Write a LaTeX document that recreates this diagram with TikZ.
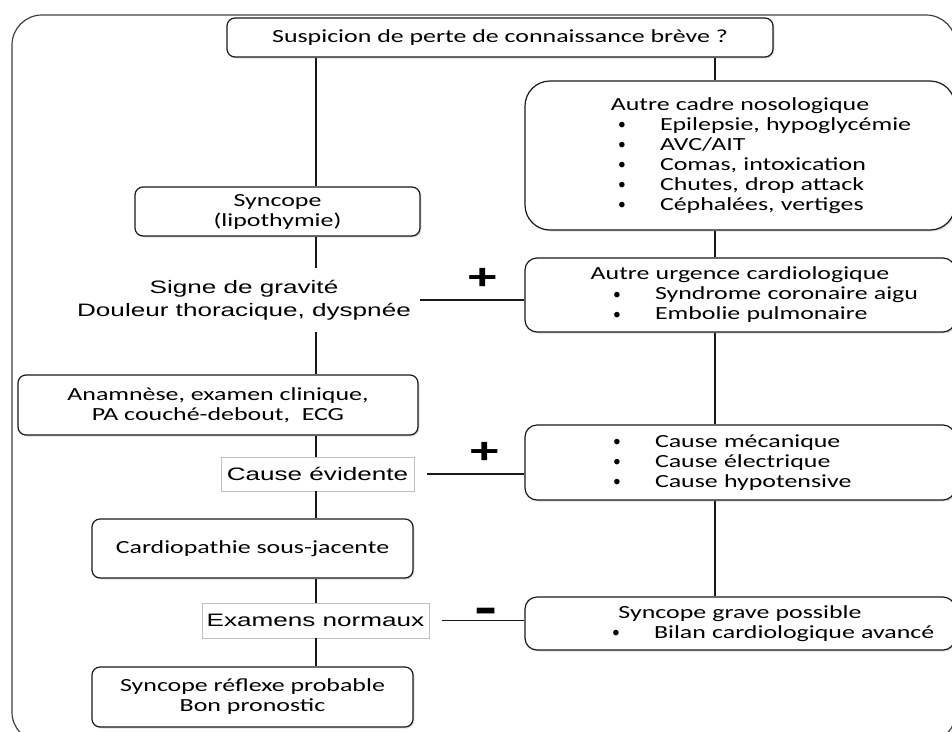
\documentclass[tikz,border=0pt]{standalone}
\usepackage{fontspec}
\usepackage{graphicx}
\setmainfont{Carlito}[FakeStretch=1.40]
\newfontfamily\arialf{Liberation Sans}[FakeStretch=1.45]
\usetikzlibrary{shapes,positioning,shadows}
\setlength{\parindent}{0pt}

\newcommand{\titre}[1]{\makebox[\linewidth]{#1}}
\newcommand{\puce}[2]{\hspace*{#1}\makebox[42pt][l]{\raisebox{0.5pt}{\scalebox{0.6}[0.85]{\textbullet}}}#2}

\begin{document}
\begin{tikzpicture}[x=1pt, y=-1pt,
    boite/.style={draw=black!90, line width=1.2pt, rounded corners=8pt, fill=white, align=center, inner sep=0pt,
        font=\fontsize{18.5}{20}\selectfont, drop shadow={shadow xshift=1.5pt, shadow yshift=-1.5pt, opacity=0.25}},
    liste/.style={boite, rounded corners=12pt, text width=430pt, align=left},
    critere/.style={font=\arialf\fontsize{18}{23}\selectfont, align=center},
    cadregris/.style={critere, draw=black!25, line width=0.6pt, inner sep=0pt},
    signe/.style={font=\arialf\bfseries\fontsize{36}{36}\selectfont, inner sep=3pt},
    lien/.style={draw=black!90, line width=1.2pt}]
    \useasboundingbox (0,0) rectangle (952,731);
    \clip (0,0) rectangle (952,731);
    \draw[draw=black!75, line width=1.2pt, rounded corners=30pt] (12,15) rectangle (956,742);

    \coordinate (gauche) at (316,0);
    \coordinate (droite) at (715,0);

    \node[boite, minimum width=546pt, minimum height=39pt] (question) at (500,37.5) {Suspicion de perte de connaissance brève ?};
    \node[boite, minimum width=285pt, minimum height=49pt] (syncope) at (277.5,211.5) {Syncope\\(lipothymie)};
    \node[critere, inner xsep=9pt, inner ysep=12pt] (gravite) at (244,300) {Signe de gravité\\Douleur thoracique, dyspnée};
    \node[boite, minimum width=400pt, minimum height=60pt] (anamnese) at (218,405) {Anamnèse, examen clinique,\\PA couché-debout,\ \ ECG};
    \node[cadregris, minimum width=193pt, minimum height=34pt] (evidente) at (317.5,474) {Cause évidente};
    \node[boite, minimum width=321pt, minimum height=59pt] (cardio) at (252.5,548.5) {Cardiopathie sous-jacente};
    \node[cadregris, minimum width=227pt, minimum height=35pt] (normaux) at (315.5,620.5) {Examens normaux};
    \node[boite, minimum width=321pt, minimum height=60pt] (reflexe) at (252.5,697) {Syncope réflexe probable\\Bon pronostic};

    \node[liste, rounded corners=25pt, minimum height=149pt] (nosologie) at (740,155.5) {\titre{Autre cadre nosologique}\\\puce{93pt}{Epilepsie, hypoglycémie}\\\puce{93pt}{AVC/AIT}\\\puce{93pt}{Comas, intoxication}\\\puce{93pt}{Chutes, drop attack}\\\puce{93pt}{Céphalées, vertiges}};
    \node[liste, minimum height=74pt] (urgence) at (740,295) {\titre{Autre urgence cardiologique}\\\puce{88pt}{Syndrome coronaire aigu}\\\puce{88pt}{Embolie pulmonaire}};
    \node[liste, minimum height=75pt] (cause) at (740,462.5) {\puce{88pt}{Cause mécanique}\\\puce{88pt}{Cause électrique}\\\puce{88pt}{Cause hypotensive}};
    \node[liste, minimum height=53pt] (grave) at (740,623.5) {\titre{Syncope grave possible}\\\puce{87pt}{Bilan cardiologique avancé}};

    \draw[lien] (question.south -| gauche) -- (syncope.north -| gauche);
    \draw[lien] (syncope.south -| gauche) -- (gravite.north -| gauche);
    \draw[lien] (gravite.south -| gauche) -- (anamnese.north -| gauche);
    \draw[lien] (anamnese.south -| gauche) -- (evidente.north -| gauche);
    \draw[lien] (evidente.south -| gauche) -- (cardio.north -| gauche);
    \draw[lien] (cardio.south -| gauche) -- (normaux.north -| gauche);
    \draw[lien] (normaux.south -| gauche) -- (reflexe.north -| gauche);

    \draw[lien] (question.south -| droite) -- (nosologie.north -| droite);
    \draw[lien] (nosologie.south -| droite) -- (urgence.north -| droite);
    \draw[lien] (urgence.south -| droite) -- (cause.north -| droite);
    \draw[lien] (cause.south -| droite) -- (grave.north -| droite);

    \draw[lien] (gravite.east) -- node[signe, above=7pt, pos=0.6] (plus1) {+} (gravite.east -| urgence.west);
    \draw[lien, shorten <=13pt] (evidente.east) -- node[signe, above=7pt, pos=0.64] (plus2) {+} (evidente.east -| cause.west);
    \draw[lien, shorten <=13pt] (normaux.east) -- node[signe, font=\arialf\bfseries\fontsize{48}{48}\selectfont, above=-7pt, pos=0.6] (moins) {-} (normaux.east -| grave.west);
\end{tikzpicture}
\end{document}
